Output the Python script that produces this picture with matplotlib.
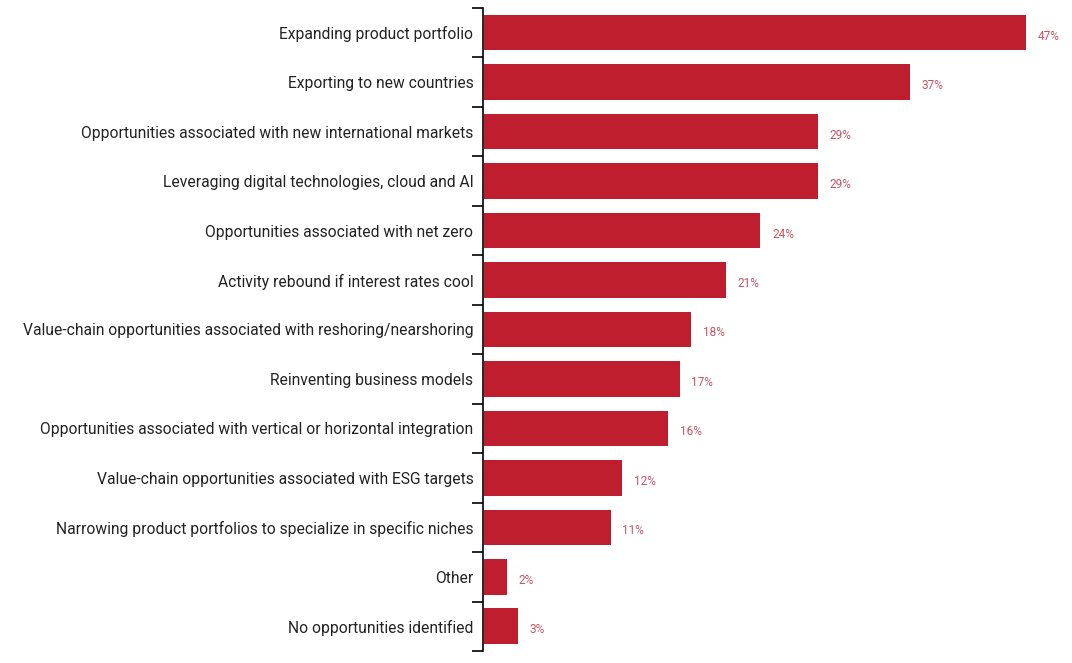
import numpy as np
import matplotlib.pyplot as plt

categories = [
    "Expanding product portfolio",
    "Exporting to new countries",
    "Opportunities associated with new international markets",
    "Leveraging digital technologies, cloud and AI",
    "Opportunities associated with net zero",
    "Activity rebound if interest rates cool",
    "Value-chain opportunities associated with reshoring/nearshoring",
    "Reinventing business models",
    "Opportunities associated with vertical or horizontal integration",
    "Value-chain opportunities associated with ESG targets",
    "Narrowing product portfolios to specialize in specific niches",
    "Other",
    "No opportunities identified",
]
values = [47, 37, 29, 29, 24, 21, 18, 17, 16, 12, 11, 2, 3]

plt.rcParams["font.family"] = ["Roboto", "DejaVu Sans"]

fig = plt.figure(figsize=(10.72, 6.63), dpi=100)
ax = fig.add_axes([0.4506, 0.0181, 0.538, 0.9699])

pos = np.arange(len(categories))
ax.barh(pos, values, height=0.72, color="#BE1E2D", left=0.05)

for p, v in zip(pos, values):
    ax.text(v + 1.05, p + 0.07, f"{v}%", va="center", ha="left",
            fontsize=8.5, color="#C85260")

ax.set_xlim(0, 50)
ax.set_ylim(len(categories) - 0.5, -0.5)
ax.set_yticks(pos)
ax.set_yticklabels(categories, fontsize=11.25, color="#222222")
ax.set_yticks(np.arange(-0.5, len(categories)), minor=True)
ax.tick_params(axis="y", which="major", length=0, pad=7)
ax.tick_params(axis="y", which="minor", length=8, width=1.2, color="black")
ax.set_xticks([])

for s in ["top", "right", "bottom"]:
    ax.spines[s].set_visible(False)
ax.spines["left"].set_linewidth(1.2)
ax.spines["left"].set_color("black")

fig.savefig("out.png", dpi=100)
